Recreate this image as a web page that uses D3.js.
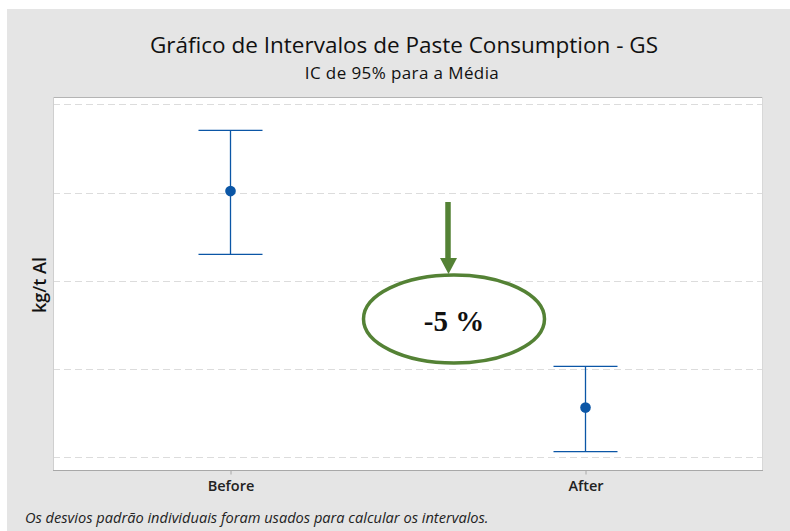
<!DOCTYPE html>
<html>
<head>
<meta charset="utf-8">
<script src="https://cdn.jsdelivr.net/npm/d3@7"></script>
<style>
  html, body { margin: 0; padding: 0; background: #fff; }
  svg { display: block; }
</style>
</head>
<body>
<svg id="chart" width="790" height="531"></svg>
<script>
// chart values (y scale hidden in the original, units read relative to the grid)
var groups = ['Before', 'After'];
var means = [490.17, 465.6];
var lowerCI = [482.99, 460.6];
var upperCI = [497.07, 470.28];
var yTicks = [460, 470, 480, 490, 500];
var changeLabel = '-5 %';

(function() {
    'use strict';

    var W = 790, H = 531,
    plot = {left: 53, right: 763, top: 97, bottom: 470},
    BLUE = '#0b56a6',
    GREEN = '#548235',
    FONT = '"Open Sans", "Noto Sans", sans-serif',

    svg = d3.select('#chart'),
    x = d3.scalePoint().domain(groups).range([plot.left, plot.right]).padding(0.5),
    y = d3.scaleLinear().domain([458.52, 500.85]).range([plot.bottom, plot.top]),
    rows = groups.map(function(g, i) {
        return {g: g, m: means[i], lo: lowerCI[i], hi: upperCI[i]};
    });

    // background
    svg.append('rect').attr('x', 7).attr('y', 9).attr('width', W - 7).attr('height', H - 9)
        .attr('fill', '#e5e5e5');
    svg.append('rect').attr('x', plot.left).attr('y', plot.top)
        .attr('width', plot.right - plot.left).attr('height', plot.bottom - plot.top)
        .attr('fill', '#fff');

    // dashed grid
    svg.append('g').selectAll('line').data(yTicks).enter().append('line')
        .attr('x1', plot.left).attr('x2', plot.right)
        .attr('y1', function(d) { return Math.round(y(d)) + 0.5; })
        .attr('y2', function(d) { return Math.round(y(d)) + 0.5; })
        .attr('stroke', '#dcdcdc').attr('stroke-width', 1)
        .attr('stroke-dasharray', '7,4');

    // frame lines
    svg.append('line').attr('x1', plot.left).attr('x2', plot.right)
        .attr('y1', plot.top + 0.5).attr('y2', plot.top + 0.5).attr('stroke', '#b4b4b4');
    svg.append('line').attr('x1', plot.left + 0.5).attr('x2', plot.left + 0.5)
        .attr('y1', plot.top).attr('y2', plot.bottom).attr('stroke', '#cfcfcf');
    svg.append('line').attr('x1', plot.right - 0.5).attr('x2', plot.right - 0.5)
        .attr('y1', plot.top).attr('y2', plot.bottom).attr('stroke', '#d8d8d8');

    // x axis
    var xAxis = svg.append('g').attr('transform', 'translate(0,' + (plot.bottom + 0.5) + ')')
        .call(d3.axisBottom(x).tickSize(4).tickSizeOuter(0));
    xAxis.select('.domain').attr('stroke', '#a8a8a8').attr('d', 'M' + plot.left + ',0H' + plot.right);
    xAxis.selectAll('.tick line').attr('stroke', '#a8a8a8');
    xAxis.selectAll('.tick text').attr('font-family', FONT).attr('font-size', 14.5)
        .attr('font-weight', 600).attr('fill', '#222').attr('dy', '0.9em');

    // interval bars
    var bars = svg.append('g').selectAll('g').data(rows).enter().append('g')
        .attr('stroke', BLUE).attr('stroke-width', 1.3);
    bars.append('line')
        .attr('x1', function(d) { return x(d.g); }).attr('x2', function(d) { return x(d.g); })
        .attr('y1', function(d) { return y(d.hi); }).attr('y2', function(d) { return y(d.lo); });
    bars.append('line')
        .attr('x1', function(d) { return x(d.g) - 32; }).attr('x2', function(d) { return x(d.g) + 32; })
        .attr('y1', function(d) { return y(d.hi); }).attr('y2', function(d) { return y(d.hi); });
    bars.append('line')
        .attr('x1', function(d) { return x(d.g) - 32; }).attr('x2', function(d) { return x(d.g) + 32; })
        .attr('y1', function(d) { return y(d.lo); }).attr('y2', function(d) { return y(d.lo); });
    bars.append('circle')
        .attr('cx', function(d) { return x(d.g); }).attr('cy', function(d) { return y(d.m); })
        .attr('r', 5.3).attr('fill', BLUE).attr('stroke', 'none');

    // titles
    svg.append('text').attr('x', 404).attr('y', 53).attr('text-anchor', 'middle')
        .attr('font-family', FONT).attr('font-size', 22.5).attr('fill', '#111')
        .text('Gráfico de Intervalos de Paste Consumption - GS');
    svg.append('text').attr('x', 402).attr('y', 79).attr('text-anchor', 'middle')
        .attr('font-family', FONT).attr('font-size', 17).attr('letter-spacing', 0.4).attr('fill', '#111')
        .text('IC de 95% para a Média');

    // y label
    svg.append('text').attr('transform', 'translate(46,285) rotate(-90)')
        .attr('text-anchor', 'middle').attr('font-family', FONT).attr('font-size', 18)
        .attr('font-weight', 600).attr('fill', '#111').text('kg/t Al');

    // footnote
    svg.append('text').attr('x', 25).attr('y', 523)
        .attr('font-family', FONT).attr('font-size', 14.6).attr('font-style', 'italic')
        .attr('fill', '#222').text('Os desvios padrão individuais foram usados para calcular os intervalos.');

    // annotation: arrow + ellipse
    var ann = svg.append('g');
    ann.append('line').attr('x1', 448).attr('x2', 448).attr('y1', 202).attr('y2', 260)
        .attr('stroke', GREEN).attr('stroke-width', 5.5);
    ann.append('path').attr('d', 'M440,258L457,258L448.5,274Z').attr('fill', GREEN);
    ann.append('ellipse').attr('cx', 454).attr('cy', 319).attr('rx', 90.5).attr('ry', 44)
        .attr('fill', '#fff').attr('stroke', GREEN).attr('stroke-width', 3.5);
    ann.append('text').attr('x', 454).attr('y', 331).attr('text-anchor', 'middle')
        .attr('font-family', '"Liberation Serif", "Times New Roman", serif')
        .attr('font-size', 29).attr('font-weight', 'bold').attr('fill', '#111').text(changeLabel);
}());
</script>
</body>
</html>
